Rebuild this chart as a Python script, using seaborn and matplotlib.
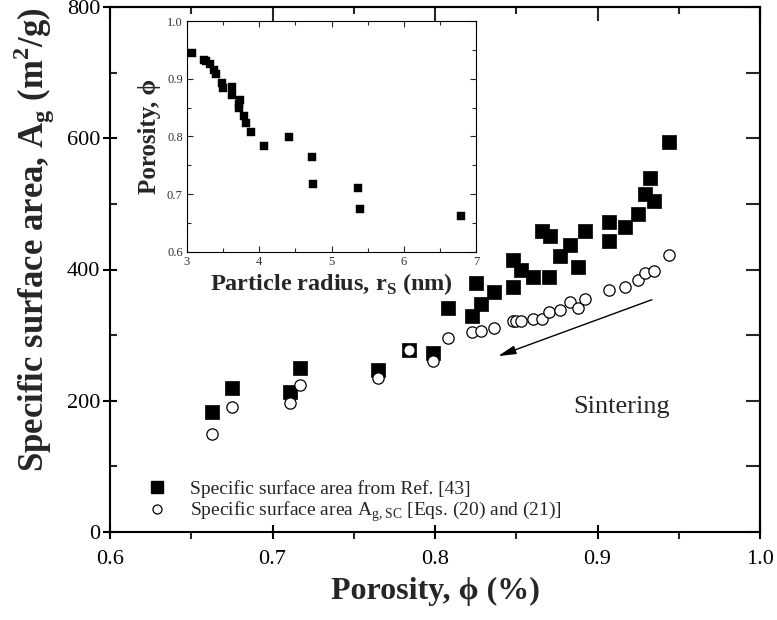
import matplotlib
matplotlib.use("Agg")
import matplotlib.pyplot as plt
from matplotlib.lines import Line2D
from matplotlib.ticker import MultipleLocator, FormatStrFormatter
import pandas as pd
import seaborn as sns

# Specific surface area from Ref. [43]
ref_porosity = [0.663, 0.675, 0.711, 0.717, 0.765, 0.784, 0.799, 0.808, 0.823,
                0.825, 0.828, 0.836, 0.848, 0.848, 0.853, 0.860, 0.866, 0.870,
                0.871, 0.877, 0.883, 0.888, 0.892, 0.907, 0.907, 0.917, 0.925,
                0.929, 0.932, 0.935, 0.944]
ref_area = [183, 219, 213, 250, 247, 277, 273, 341, 329,
            379, 348, 365, 415, 374, 399, 388, 459, 388,
            451, 420, 438, 404, 458, 472, 443, 465, 484,
            515, 540, 505, 594]

# Specific surface area A_g,SC from Eqs. (20) and (21)
sc_porosity = [0.663, 0.675, 0.711, 0.717, 0.765, 0.784, 0.799, 0.808, 0.823,
               0.828, 0.836, 0.848, 0.850, 0.853, 0.860, 0.866, 0.870, 0.877,
               0.883, 0.888, 0.892, 0.907, 0.917, 0.925, 0.929, 0.935, 0.944]
sc_area = [149, 190, 197, 224, 234, 277, 260, 296, 305,
           307, 311, 321, 321, 322, 324, 325, 336, 338,
           351, 341, 355, 369, 373, 384, 394, 397, 422]

# Inset: porosity against particle radius
radius_nm = [3.07, 3.23, 3.26, 3.32, 3.38, 3.40, 3.48, 3.50, 3.62, 3.62, 3.73,
             3.72, 3.72, 3.79, 3.81, 3.88, 4.06, 4.41, 4.73, 4.75, 5.36, 5.39, 6.79]
radius_porosity = [0.944, 0.932, 0.930, 0.925, 0.916, 0.908, 0.892, 0.884, 0.886,
                   0.872, 0.864, 0.857, 0.849, 0.836, 0.824, 0.807, 0.784, 0.799,
                   0.765, 0.717, 0.711, 0.675, 0.663]

ref_df = pd.DataFrame({"porosity": ref_porosity, "area": ref_area})
sc_df = pd.DataFrame({"porosity": sc_porosity, "area": sc_area})
inset_df = pd.DataFrame({"radius": radius_nm, "porosity": radius_porosity})

sns.set_theme(style="ticks")
plt.rcParams["font.family"] = ["Liberation Serif", "DejaVu Serif"]
plt.rcParams["axes.linewidth"] = 1.5
plt.rcParams["axes.edgecolor"] = "black"

fig = plt.figure(figsize=(7.77, 6.2), dpi=100)
ax = fig.add_axes([110 / 777, 88 / 620, 650 / 777, 525 / 620])

sns.scatterplot(data=ref_df, x="porosity", y="area", marker="s", s=88,
                color="black", edgecolor="black", linewidth=0.5, ax=ax,
                legend=False, zorder=3)
sns.scatterplot(data=sc_df, x="porosity", y="area", marker="o", s=66,
                facecolor="white", edgecolor="black", linewidth=0.9, ax=ax,
                legend=False, zorder=4)

ax.set_xlim(0.6, 1.0)
ax.set_ylim(0, 800)
ax.xaxis.set_major_locator(MultipleLocator(0.1))
ax.xaxis.set_minor_locator(MultipleLocator(0.05))
ax.yaxis.set_major_locator(MultipleLocator(200))
ax.yaxis.set_minor_locator(MultipleLocator(100))
ax.xaxis.set_major_formatter(FormatStrFormatter("%.1f"))
ax.tick_params(axis="x", which="major", direction="inout", length=10, width=1.5,
               labelsize=16, pad=8, colors="black")
ax.tick_params(axis="x", which="minor", direction="out", length=5, width=1.5)
ax.tick_params(axis="y", which="major", direction="inout", length=10, width=1.5,
               labelsize=16, pad=2, colors="black")
ax.tick_params(axis="y", which="minor", direction="in", length=5, width=1.5)

top = ax.secondary_xaxis("top")
top.xaxis.set_major_locator(MultipleLocator(0.1))
top.xaxis.set_minor_locator(MultipleLocator(0.05))
top.tick_params(which="major", direction="in", length=10, width=1.5, labeltop=False)
top.tick_params(which="minor", direction="in", length=5, width=1.5)
right = ax.secondary_yaxis("right")
right.yaxis.set_major_locator(MultipleLocator(100))
right.yaxis.set_minor_locator(MultipleLocator(100))
right.tick_params(which="major", direction="in", length=10, width=1.5, labelright=False)

ax.set_xlabel("Porosity, \u03d5 (%)", fontsize=23, fontweight="bold", labelpad=6)
ax.set_ylabel("Specific surface area, A$_\\mathregular{g}$ (m$^\\mathregular{2}$/g)",
              fontsize=25, fontweight="bold")
ax.yaxis.set_label_coords(-0.082, 0.556)

# sintering direction
ax.annotate("", xy=(0.8388, 268), xytext=(0.9335, 354),
            arrowprops=dict(arrowstyle="-|>,head_length=0.9,head_width=0.22",
                            color="black", lw=1.0, shrinkA=0, shrinkB=0))
ax.text(0.9148, 191, "Sintering", fontsize=19, ha="center", va="center")

handles = [
    Line2D([], [], linestyle="none", marker="s", markersize=8, color="black"),
    Line2D([], [], linestyle="none", marker="o", markersize=6.5,
           markerfacecolor="white", markeredgecolor="black", markeredgewidth=0.9),
]
labels = ["Specific surface area from Ref. [43]",
          "Specific surface area A$_\\mathregular{g,SC}$ [Eqs. (20) and (21)]"]
ax.legend(handles, labels, loc="center left", bbox_to_anchor=(0.031, 0.057),
          frameon=False, fontsize=14, handlelength=1.0, handletextpad=1.2,
          labelspacing=0.1, borderpad=0.4)

# inset: porosity vs particle radius
ins = fig.add_axes([187 / 777, 368 / 620, 289 / 777, 231 / 620])
ins.set_facecolor("white")
sns.scatterplot(data=inset_df, x="radius", y="porosity", marker="s", s=28,
                color="black", edgecolor="black", linewidth=0.3, ax=ins,
                legend=False)
ins.set_xlim(3, 7)
ins.set_ylim(0.6, 1.0)
ins.xaxis.set_major_locator(MultipleLocator(1))
ins.xaxis.set_minor_locator(MultipleLocator(0.5))
ins.yaxis.set_major_locator(MultipleLocator(0.1))
ins.yaxis.set_minor_locator(MultipleLocator(0.05))
ins.yaxis.set_major_formatter(FormatStrFormatter("%.1f"))
for s in ins.spines.values():
    s.set_linewidth(0.8)
ins.tick_params(which="both", direction="in", top=True, right=True, width=0.8,
                labelsize=9, labelcolor="#333333", pad=3)
ins.tick_params(which="major", length=4)
ins.tick_params(which="minor", length=3)
ins.set_xlabel("Particle radius, r$_\\mathregular{S}$ (nm)", fontsize=17.5,
               fontweight="bold", labelpad=2)
ins.set_ylabel("Porosity, \u03d5", fontsize=18, fontweight="bold", labelpad=4)

fig.savefig("out.png", dpi=100)
